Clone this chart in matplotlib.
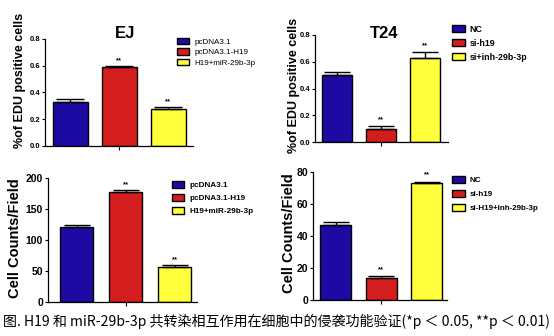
import matplotlib.pyplot as plt
import numpy as np

# data
ej_groups = ["pcDNA3.1", "pcDNA3.1-H19", "H19+miR-29b-3p"]
t24_edu_groups = ["NC", "si-h19", "si+inh-29b-3p"]
t24_cnt_groups = ["NC", "si-h19", "si-H19+inh-29b-3p"]

ej_edu = [0.33, 0.59, 0.28]
ej_edu_err = [0.02, 0.01, 0.015]
t24_edu = [0.50, 0.10, 0.63]
t24_edu_err = [0.025, 0.02, 0.04]

ej_cnt = [121, 178, 57]
ej_cnt_err = [3, 2, 2]
t24_cnt = [47, 13.5, 73]
t24_cnt_err = [1.5, 1.5, 1.0]

edu_stars = ["", "**", "**"]
t24_stars = ["", "**", "**"]

cores = ["#1c0aa2", "#d41e1e", "#ffff3c"]

plt.rcParams["font.family"] = ["Liberation Sans", "DejaVu Sans"]

fig = plt.figure(figsize=(5.54, 3.36), dpi=100)


def painel(rect, vals, errs, stars, nomes, ymax, yticks, xlim, larg,
           tick_fs, leg_xy, leg_sp, leg_fs, leg_bold, star_off=0.0):
    ax = fig.add_axes(rect)
    x = np.arange(len(vals))
    ax.bar(x, vals, width=larg, color=cores, edgecolor="black", linewidth=1.0,
           label=nomes, zorder=2)
    ax.errorbar(x, vals, yerr=[np.zeros(len(vals)), errs], fmt="none",
                ecolor="black", elinewidth=1.0, capsize=larg * 14, capthick=1.0,
                zorder=3)
    for xi, v, e, s in zip(x, vals, errs, stars):
        if s:
            ax.text(xi, v + e + star_off, s, ha="center", va="bottom",
                    fontsize=5.5, fontweight="bold")
    ax.set_xlim(*xlim)
    ax.set_ylim(0, ymax)
    ax.set_yticks(yticks)
    ax.set_xticks([1])
    ax.set_xticklabels([""])
    ax.spines["top"].set_visible(False)
    ax.spines["right"].set_visible(False)
    ax.spines["left"].set_linewidth(0.9)
    ax.spines["bottom"].set_linewidth(0.9)
    ax.tick_params(axis="y", length=2.5, width=0.8, labelsize=tick_fs, pad=1)
    ax.tick_params(axis="x", length=3, width=0.8)
    for t in ax.get_yticklabels():
        t.set_fontweight("bold")
    # legenda posicionada em coordenadas da figura
    leg = ax.legend(loc="upper left", bbox_to_anchor=leg_xy,
                    bbox_transform=fig.transFigure, frameon=False,
                    fontsize=leg_fs, handlelength=1.45 * 6.2 / leg_fs,
                    handleheight=0.8 * 6.2 / leg_fs,
                    labelspacing=leg_sp, handletextpad=0.6 * 6.2 / leg_fs,
                    borderaxespad=0, borderpad=0)
    if leg_bold:
        for t in leg.get_texts():
            t.set_fontweight("bold")
    return ax


painel([0.0812, 0.5655, 0.267, 0.3185], ej_edu, ej_edu_err, edu_stars,
       ej_groups, 0.8, [0.0, 0.2, 0.4, 0.6, 0.8], (-0.52, 2.5), 0.71,
       5.5, (0.3195, 0.887), 0.3, 5.8, False, star_off=0.01)

painel([0.5686, 0.577, 0.240, 0.319], t24_edu, t24_edu_err, t24_stars,
       t24_edu_groups, 0.8, [0.0, 0.2, 0.4, 0.6, 0.8], (-0.5, 2.52), 0.68,
       5.5, (0.816, 0.926), 0.55, 6.4, True, star_off=0.02)

painel([0.0866, 0.1012, 0.269, 0.369], ej_cnt, ej_cnt_err, edu_stars,
       ej_groups, 200, [0, 50, 100, 150, 200], (-0.58, 2.45), 0.67,
       7.5, (0.310, 0.461), 0.6, 5.9, True, star_off=4)

painel([0.565, 0.107, 0.242, 0.381], t24_cnt, t24_cnt_err, t24_stars,
       t24_cnt_groups, 80, [0, 20, 40, 60, 80], (-0.5, 2.45), 0.68,
       7.5, (0.816, 0.476), 0.75, 5.8, True, star_off=2)

fig.text(125 / 554, 1 - 33 / 336, "EJ", ha="center", va="center",
         fontsize=12, fontweight="bold")
fig.text(384 / 554, 1 - 33 / 336, "T24", ha="center", va="center",
         fontsize=12, fontweight="bold")

fig.text(0.037, 0.762, "%of EDU positive cells", rotation=90, ha="center",
         va="center", fontsize=9, fontweight="bold")
fig.text(0.530, 0.747, "%of EDU positive cells", rotation=90, ha="center",
         va="center", fontsize=9, fontweight="bold")
fig.text(0.027, 0.29, "Cell Counts/Field", rotation=90, ha="center",
         va="center", fontsize=10.5, fontweight="bold")
fig.text(0.522, 0.306, "Cell Counts/Field", rotation=90, ha="center",
         va="center", fontsize=10.5, fontweight="bold")

fig.text(0.006, 0.045,
         "图. H19 和 miR-29b-3p 共转染相互作用在细胞中的侵袭功能验证(*p ＜ 0.05, **p ＜ 0.01)",
         ha="left", va="center", fontsize=10.1,
         family=["Noto Sans CJK SC", "DejaVu Sans"])

fig.savefig("out.png", dpi=100)
